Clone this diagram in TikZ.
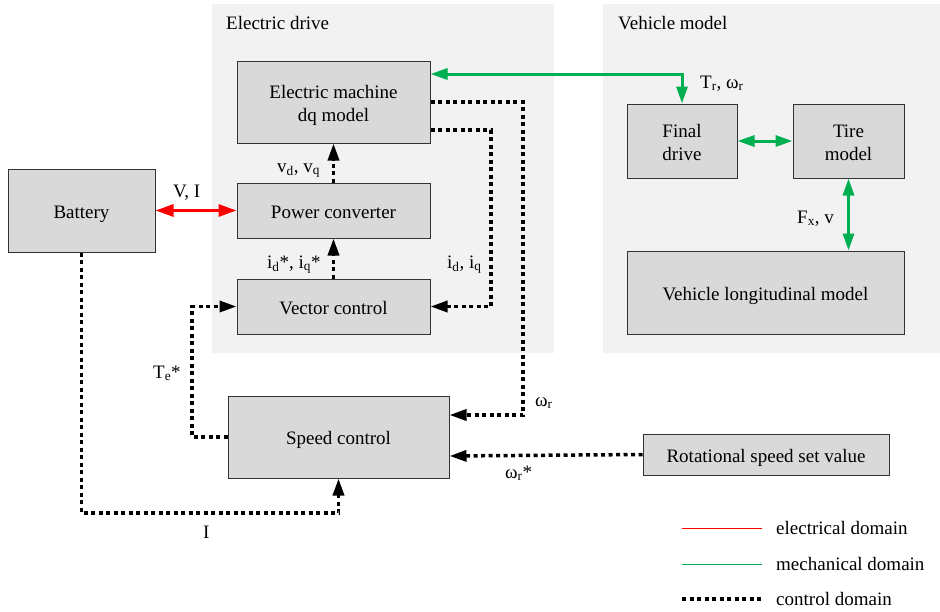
\documentclass[tikz,border=0pt]{standalone}
\usepackage{fontspec}
\setmainfont{Liberation Serif}
\usetikzlibrary{arrows.meta}
\definecolor{mgreen}{HTML}{00B050}
\definecolor{boxfill}{HTML}{D9D9D9}
\definecolor{panelfill}{HTML}{F2F2F2}
\newcommand\boxtxt[1]{\raisebox{-3pt}[\height][\depth]{\begin{tabular}{@{}c@{}}#1\end{tabular}}}
\tikzset{
  blk/.style={draw=black!80, line width=1pt, fill=boxfill, inner sep=0pt},
  panel/.style={fill=panelfill, draw=none},
  lbl/.style={inner sep=0pt, anchor=base west},
  ctrl/.style={line width=3.5pt, dash pattern=on 4pt off 3.5pt, line cap=butt,
    -{Triangle[length=17pt,width=11pt]}},
  ctrlplain/.style={line width=3.5pt, dash pattern=on 4pt off 3.5pt, line cap=butt},
  mech/.style={mgreen, line width=3pt, {Triangle[length=17pt,width=11pt]}-{Triangle[length=17pt,width=11pt]}},
  elec/.style={red, line width=3pt, {Triangle[length=18pt,width=12pt]}-{Triangle[length=18pt,width=12pt]}},
}
\begin{document}
\begin{tikzpicture}[x=1pt,y=-1pt, font=\fontsize{19}{23}\selectfont]
\useasboundingbox (0,0) rectangle (940,611);
% panels
\fill[panel] (212,4) rectangle (554,353);
\fill[panel] (603,4) rectangle (940,353);
\node[lbl] (t1) at (226,29) {Electric drive};
\node[lbl] (t2) at (618,29) {Vehicle model};
% blocks
\node[blk, minimum width=193pt, minimum height=82pt] (em) at (333.5,102) {\boxtxt{Electric machine\\dq model}};
\node[blk, minimum width=193pt, minimum height=55pt] (pc) at (333.5,210.5) {\boxtxt{Power converter}};
\node[blk, minimum width=193pt, minimum height=55pt] (vc) at (333.5,306.5) {\boxtxt{Vector control}};
\node[blk, minimum width=147pt, minimum height=83pt] (bat) at (81.5,210.5) {\boxtxt{Battery}};
\node[blk, minimum width=221pt, minimum height=82pt] (sc) at (338.5,437) {\boxtxt{Speed control}};
\node[blk, minimum width=246pt, minimum height=41pt] (rs) at (766,454.5) {\boxtxt{Rotational speed set value}};
\node[blk, minimum width=110pt, minimum height=74pt] (fd) at (682,141) {\boxtxt{Final\\drive}};
\node[blk, minimum width=111pt, minimum height=74pt] (tm) at (848.5,141) {\boxtxt{Tire\\model}};
\node[blk, minimum width=277pt, minimum height=83pt] (vl) at (765.5,292.5) {\boxtxt{Vehicle longitudinal model}};
% electrical
\draw[elec] (bat.east) -- (pc.west);
% mechanical
\draw[mech] ([yshift=28pt]em.east) -| (fd.north);
\draw[mech] (fd.east) -- (tm.west);
\draw[mech] (tm.south) -- (tm.south |- vl.north);
% control
\coordinate (k1) at (491,306.5);
\coordinate (k2) at (523,415);
\coordinate (k3) at (192,306.5);
\coordinate (k4) at (338.5,513);
\draw[ctrl] (pc.north) -- (em.south);
\draw[ctrl] (vc.north) -- (pc.south);
\draw[ctrl] ([yshift=-28pt]em.east) -| (k1) -- (vc.east);
\draw[ctrl] (em.east) -| (k2) -- ([yshift=22pt]sc.east);
\draw[ctrl] (rs.west) -- ([yshift=-19pt]sc.east);
\draw[ctrl] (sc.west) -| (k3) -- (vc.west);
\draw[ctrl] (bat.south) |- (k4) -- (sc.south);
% labels
\node[lbl] (l1) at (173,197) {V, I};
\node[lbl] (l2) at (277,172) {v\textsubscript{d}, v\textsubscript{q}};
\node[lbl] (l3) at (267,268) {i\textsubscript{d}*, i\textsubscript{q}*};
\node[lbl] (l4) at (447,268) {i\textsubscript{d}, i\textsubscript{q}};
\node[lbl] (l5) at (700,88) {T\textsubscript{r}, ω\textsubscript{r}};
\node[lbl] (l6) at (797,223) {F\textsubscript{x}, v};
\node[lbl] (l7) at (153,378) {T\textsubscript{e}*};
\node[lbl] (l8) at (535,406) {ω\textsubscript{r}};
\node[lbl] (l9) at (505,478) {ω\textsubscript{r}*};
\node[lbl] (l10) at (203,538) {I};
% legend
\coordinate (a1) at (682,528); \coordinate (b1) at (762,528);
\coordinate (a2) at (682,564); \coordinate (b2) at (762,564);
\coordinate (a3) at (682,599); \coordinate (b3) at (762,599);
\draw[red, line width=1pt] (a1) -- (b1);
\draw[mgreen, line width=1pt] (a2) -- (b2);
\draw[ctrlplain] (a3) -- (b3);
\node[lbl] (g1) at (776,534) {electrical domain};
\node[lbl] (g2) at (776,570) {mechanical domain};
\node[lbl] (g3) at (776,605) {control domain};
\end{tikzpicture}
\end{document}
